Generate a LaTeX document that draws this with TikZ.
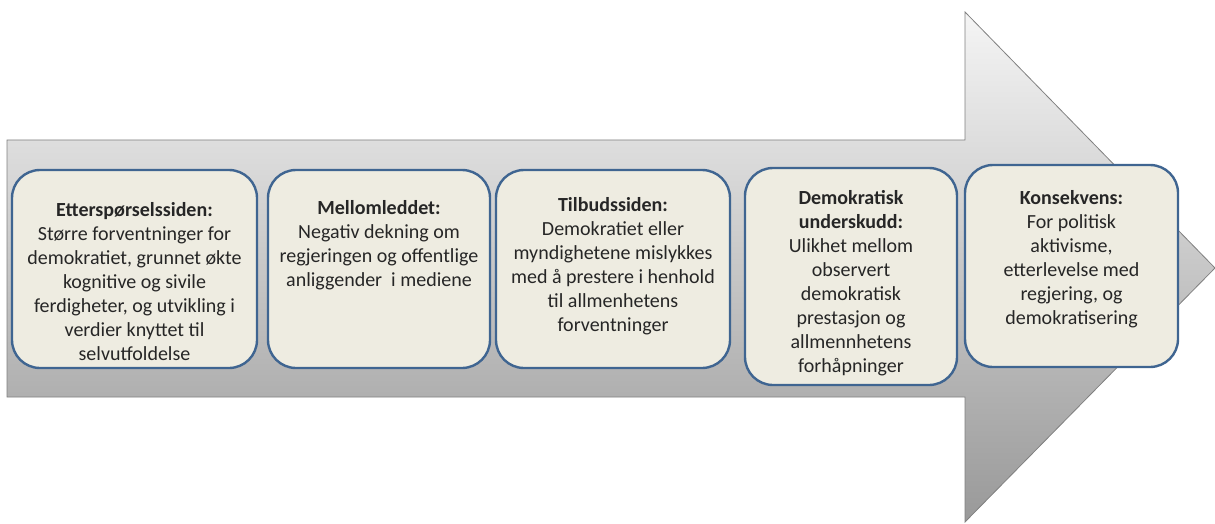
\documentclass[tikz,border=0pt]{standalone}
\usepackage{fontspec}
\setmainfont{Carlito}
\usetikzlibrary{positioning}
\definecolor{boxfill}{HTML}{EEECE1}
\definecolor{boxline}{HTML}{3F6591}
\definecolor{txtcol}{HTML}{262626}

\begin{document}
\begin{tikzpicture}[x=1pt, y=-1pt,
    box/.style={draw=boxline, line width=2.4pt, fill=boxfill, rounded corners=28pt, inner sep=0pt},
    txt/.style={anchor=north, align=center, inner sep=0pt, text=txtcol, font=\fontsize{20}{24}\selectfont}]
    \useasboundingbox (0,0) rectangle (1215,524);

    % Big arrow
    \draw[draw=gray, line width=0.8pt, top color=black!4, bottom color=black!40]
        (7,140) -- (965,140) -- (965,12) -- (1215,268) -- (965,522) -- (965,397) -- (7,397) -- cycle;

    % Boxes
    \node[box, minimum width=245pt, minimum height=198pt] (b1) at (134.5,269) {};
    \node[box, minimum width=222pt, minimum height=198pt] (b2) at (379,269) {};
    \node[box, minimum width=234pt, minimum height=198pt] (b3) at (613,269) {};
    \node[box, minimum width=212pt, minimum height=217pt] (b4) at (851,276.5) {};
    \node[box, minimum width=213pt, minimum height=202pt] (b5) at (1071.5,266) {};

    % Texts
    \node[txt] (t1) at ([yshift=-33pt]b1.north) {\textbf{Etterspørselssiden:}\\ Større forventninger for\\ demokratiet, grunnet økte\\ kognitive og sivile\\ ferdigheter, og utvikling i\\ verdier knyttet til\\ selvutfoldelse};
    \node[txt] (t2) at ([yshift=-31pt]b2.north) {\textbf{Mellomleddet:}\\ Negativ dekning om\\ regjeringen og offentlige\\ anliggender\ \ i mediene};
    \node[txt] (t3) at ([yshift=-28pt]b3.north) {\textbf{Tilbudssiden:}\\ Demokratiet eller\\ myndighetene mislykkes\\ med å prestere i henhold\\ til allmenhetens\\ forventninger};
    \node[txt] (t4) at ([yshift=-23pt]b4.north) {\textbf{Demokratisk}\\ \textbf{underskudd:}\\ Ulikhet mellom\\ observert\\ demokratisk\\ prestasjon og\\ allmennhetens\\ forhåpninger};
    \node[txt] (t5) at ([yshift=-26pt]b5.north) {\textbf{Konsekvens:}\\ For politisk\\ aktivisme,\\ etterlevelse med\\ regjering, og\\ demokratisering};
\end{tikzpicture}
\end{document}
